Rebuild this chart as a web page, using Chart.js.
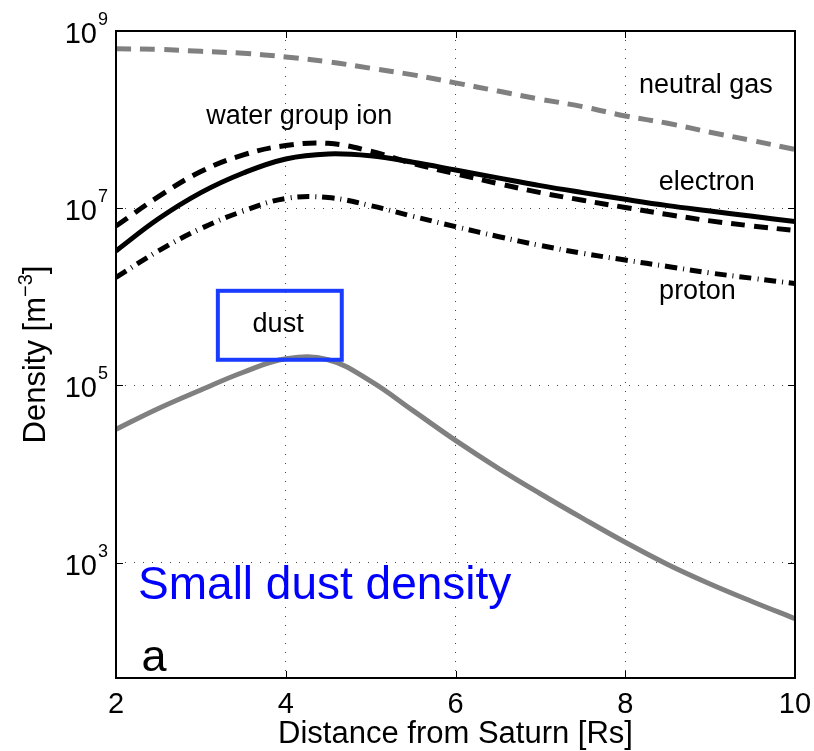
<!DOCTYPE html>
<html>
<head>
<meta charset="utf-8">
<script src="https://cdn.jsdelivr.net/npm/chart.js@4.4.1/dist/chart.umd.min.js"></script>
<style>
    html, body { margin: 0; padding: 0; background: #fff; }
    canvas { display: block; }
</style>
</head>
<body>
<canvas id="densityChart" width="814" height="751"></canvas>
<script>
// Distance from Saturn [Rs]
const distance = [2, 2.5, 3, 3.5, 4, 4.5, 5, 5.5, 6, 6.5, 7, 7.5, 8, 8.5, 9, 9.5, 10];

// Densities [m^-3]
const neutralGas = [6.3e8, 6.2e8, 5.9e8, 5.6e8, 5.1e8, 4.5e8, 3.8e8, 3.2e8, 2.6e8, 2.1e8, 1.7e8, 1.4e8, 1.1e8, 9.1e7, 7.2e7, 5.8e7, 4.6e7];
const waterGroupIon = [6.3e6, 1.35e7, 2.6e7, 4.0e7, 5.1e7, 5.4e7, 4.4e7, 3.2e7, 2.45e7, 1.9e7, 1.5e7, 1.23e7, 1.02e7, 8.5e6, 7.2e6, 6.3e6, 5.6e6];
const electron = [3.3e6, 7.6e6, 1.5e7, 2.5e7, 3.6e7, 4.1e7, 3.9e7, 3.3e7, 2.7e7, 2.2e7, 1.8e7, 1.5e7, 1.26e7, 1.07e7, 9.3e6, 8.1e6, 7.1e6];
const proton = [1.66e6, 3.3e6, 5.9e6, 9.3e6, 1.29e7, 1.32e7, 1.07e7, 8.1e6, 6.2e6, 4.8e6, 3.8e6, 3.1e6, 2.6e6, 2.2e6, 1.86e6, 1.62e6, 1.41e6];
const dust = [3.2e4, 5.5e4, 8.9e4, 1.41e5, 2.0e5, 1.95e5, 1.12e5, 5.2e4, 2.4e4, 1.17e4, 6.0e3, 3.16e3, 1.7e3, 955, 575, 363, 234];

// Axis ticks
const xTicks = [2, 4, 6, 8, 10];
const yTickExponents = [3, 5, 7, 9];

// Curve labels, placed in data units
const curveLabels = [
    { text: "water group ion", x: 4.16, y: 1.07e8 },
    { text: "neutral gas", x: 8.95, y: 2.45e8 },
    { text: "electron", x: 8.96, y: 1.95e7 },
    { text: "proton", x: 8.85, y: 1.15e6 },
    { text: "dust", x: 3.91, y: 4.9e5 }
];

const FONT = '"Liberation Sans", Arial, Helvetica, sans-serif';

function points(values) {
    return distance.map((x, i) => ({ x: x, y: values[i] }));
}

function lineSet(label, values, color, dash) {
    return {
        label: label,
        data: points(values),
        borderColor: color,
        borderWidth: 5,
        borderDash: dash,
        borderCapStyle: 'butt',
        pointRadius: 0,
        tension: 0.4,
        fill: false
    };
}

// Frame, ticks, axis text and annotations, drawn like the MATLAB figure
const figureText = {
    id: 'figureText',
    afterDraw(chart) {
        const ctx = chart.ctx;
        const area = chart.chartArea;
        const xs = chart.scales.x;
        const ys = chart.scales.y;

        ctx.save();

        // inward tick marks on all four sides
        ctx.strokeStyle = '#000';
        ctx.lineWidth = 1;
        ctx.setLineDash([]);
        xTicks.forEach(v => {
            const px = Math.round(xs.getPixelForValue(v)) + 0.5;
            ctx.beginPath();
            ctx.moveTo(px, area.bottom);
            ctx.lineTo(px, area.bottom - 7);
            ctx.moveTo(px, area.top);
            ctx.lineTo(px, area.top + 7);
            ctx.stroke();
        });
        yTickExponents.forEach(e => {
            const py = Math.round(ys.getPixelForValue(Math.pow(10, e))) + 0.5;
            ctx.beginPath();
            ctx.moveTo(area.left, py);
            ctx.lineTo(area.left + 7, py);
            ctx.moveTo(area.right, py);
            ctx.lineTo(area.right - 7, py);
            ctx.stroke();
        });

        // axes box
        ctx.lineWidth = 2;
        ctx.strokeRect(area.left, area.top, area.right - area.left, area.bottom - area.top);

        // x tick labels
        ctx.fillStyle = '#000';
        ctx.font = '29px ' + FONT;
        ctx.textAlign = 'center';
        ctx.textBaseline = 'alphabetic';
        xTicks.forEach(v => {
            ctx.fillText(String(v), xs.getPixelForValue(v), area.bottom + 35);
        });

        // y tick labels: 10 with superscript exponent
        yTickExponents.forEach(e => {
            const py = ys.getPixelForValue(Math.pow(10, e));
            ctx.font = '18px ' + FONT;
            ctx.textAlign = 'right';
            ctx.fillText(String(e), area.left - 8, py - 6);
            const expWidth = ctx.measureText(String(e)).width;
            ctx.font = '29px ' + FONT;
            ctx.fillText('10', area.left - 8 - expWidth - 1, py + 12);
        });

        // x axis title
        ctx.font = '31px ' + FONT;
        ctx.textAlign = 'center';
        ctx.fillText('Distance from Saturn [Rs]', (area.left + area.right) / 2, area.bottom + 65);

        // y axis title, rotated, with superscript -3
        ctx.save();
        ctx.translate(45, (area.top + area.bottom) / 2);
        ctx.rotate(-Math.PI / 2);
        ctx.textAlign = 'left';
        const partA = 'Density [m';
        const partB = '\u22123';
        const partC = ']';
        ctx.font = '31px ' + FONT;
        const wA = ctx.measureText(partA).width;
        const wC = ctx.measureText(partC).width;
        ctx.font = '20px ' + FONT;
        const wB = ctx.measureText(partB).width;
        let start = -(wA + wB + wC) / 2;
        ctx.font = '31px ' + FONT;
        ctx.fillText(partA, start, 0);
        ctx.font = '20px ' + FONT;
        ctx.fillText(partB, start + wA, -13);
        ctx.font = '31px ' + FONT;
        ctx.fillText(partC, start + wA + wB, 0);
        ctx.restore();

        // curve labels
        ctx.font = '27px ' + FONT;
        ctx.textAlign = 'center';
        ctx.textBaseline = 'middle';
        curveLabels.forEach(l => {
            ctx.fillText(l.text, xs.getPixelForValue(l.x), ys.getPixelForValue(l.y));
        });

        // blue box around "dust"
        const bx1 = xs.getPixelForValue(3.2);
        const bx2 = xs.getPixelForValue(4.66);
        const by1 = ys.getPixelForValue(1.17e6);
        const by2 = ys.getPixelForValue(1.95e5);
        ctx.strokeStyle = '#1a3cff';
        ctx.lineWidth = 4;
        ctx.strokeRect(bx1, by1, bx2 - bx1, by2 - by1);

        // panel title and letter
        ctx.textAlign = 'left';
        ctx.textBaseline = 'alphabetic';
        ctx.fillStyle = '#0000ff';
        ctx.font = '46px ' + FONT;
        ctx.fillText('Small dust density', xs.getPixelForValue(2.26), ys.getPixelForValue(390));
        ctx.fillStyle = '#000';
        ctx.font = '45px ' + FONT;
        ctx.fillText('a', xs.getPixelForValue(2.3), ys.getPixelForValue(60));

        ctx.restore();
    }
};

const ctx = document.getElementById('densityChart').getContext('2d');

const densityChart = new Chart(ctx, {
    type: 'line',
    data: {
        datasets: [
            lineSet('neutral gas', neutralGas, '#808080', [15, 9]),
            lineSet('water group ion', waterGroupIon, '#000', [14, 9]),
            lineSet('electron', electron, '#000', []),
            lineSet('proton', proton, '#000', [12, 6, 1, 6]),
            lineSet('dust', dust, '#808080', [])
        ]
    },
    options: {
        responsive: false,
        animation: false,
        devicePixelRatio: 1,
        layout: {
            padding: { left: 116, right: 19, top: 31, bottom: 73 }
        },
        plugins: {
            legend: { display: false },
            tooltip: { enabled: false }
        },
        scales: {
            x: {
                type: 'linear',
                min: 2,
                max: 10,
                afterBuildTicks: scale => {
                    scale.ticks = xTicks.map(v => ({ value: v }));
                },
                afterFit: scale => {
                    scale.height = 0;
                    scale.paddingLeft = 0;
                    scale.paddingRight = 0;
                },
                ticks: { display: false },
                grid: { color: '#444', lineWidth: 1, drawTicks: false },
                border: { display: false, dash: [1, 8] }
            },
            y: {
                type: 'logarithmic',
                min: 50,
                max: 1e9,
                afterBuildTicks: scale => {
                    scale.ticks = yTickExponents.map(e => ({ value: Math.pow(10, e) }));
                },
                afterFit: scale => {
                    scale.width = 0;
                    scale.paddingTop = 0;
                    scale.paddingBottom = 0;
                },
                ticks: { display: false },
                grid: { color: '#444', lineWidth: 1, drawTicks: false },
                border: { display: false, dash: [1, 8] }
            }
        }
    },
    plugins: [figureText]
});
</script>
</body>
</html>
